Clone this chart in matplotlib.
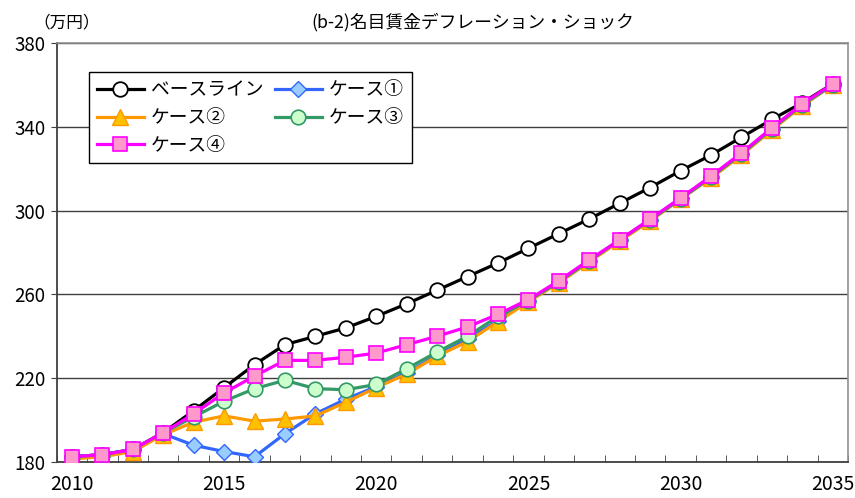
import matplotlib
matplotlib.use("Agg")
import matplotlib.pyplot as plt
import numpy as np

plt.rcParams['font.family'] = ['Noto Sans CJK JP', 'DejaVu Sans']

years = list(range(2010, 2036))
baseline = [182.5, 183.5, 186, 194, 204.5, 215.5, 226.5, 236, 240, 244, 249.5, 255.5, 262,
            268.5, 275, 282, 289, 296, 303.5, 311, 319, 326.5, 335, 343.5, 351.5, 360.5]
case1 = [182.5, 183.5, 186, 193.5, 188, 185, 182.5, 193.5, 203, 210, 216, 222.5, 231,
         238.5, 247.5, 257, 266, 276, 286, 295.5, 306, 316, 327, 339, 350.5, 360]
case2 = [181.5, 182.5, 185, 193, 199, 202, 199.5, 200.5, 202, 208.5, 215.5, 222, 230.5,
         237.5, 247, 256.5, 265.5, 275.5, 285.5, 295, 305.5, 315.5, 326.5, 338.5, 350, 360]
case3 = [182.5, 183.5, 186, 194, 201.5, 209, 215, 219, 215, 214.5, 217, 224.5, 232.5,
         240, 249.5, 257, 266, 276, 286, 295.5, 305.5, 316, 327, 339, 350.5, 360]
case4 = [182.5, 183.5, 186, 194, 203, 213, 221, 228.5, 228.5, 230, 232, 236, 240,
         244.5, 250.5, 257.5, 266.5, 276.5, 286, 296, 306, 316.5, 327.5, 339.5, 351, 360.5]

labels = ['ベースライン', 'ケース①', 'ケース②', 'ケース③', 'ケース④']
yticks = [180, 220, 260, 300, 340, 380]
xtick_years = [2010, 2015, 2020, 2025, 2030, 2035]

fig = plt.figure(figsize=(8.55, 4.98), dpi=100)
ax = fig.add_axes([0.0663, 0.0723, 0.9255, 0.8414])

x = np.arange(len(years))
lw = 2.3
h0, = ax.plot(x, baseline, color='black', lw=lw, marker='o', ms=10.5,
              mfc='white', mec='black', mew=1.3, zorder=3, label=labels[0])
h1, = ax.plot(x, case1, color='#3366FF', lw=lw, marker='D', ms=8.5,
              mfc='#99CCFF', mec='#3366FF', mew=1.0, zorder=4, label=labels[1])
h2, = ax.plot(x, case2, color='#FF9900', lw=lw, marker='^', ms=11,
              mfc='#FFC000', mec='#FF9900', mew=1.0, zorder=5, label=labels[2])
h3, = ax.plot(x, case3, color='#339966', lw=lw, marker='o', ms=10.5,
              mfc='#CCFFCC', mec='#339966', mew=1.2, zorder=6, label=labels[3])
h4, = ax.plot(x, case4, color='#FF00FF', lw=lw, marker='s', ms=9.5,
              mfc='#FF99CC', mec='#FF00FF', mew=1.2, zorder=7, label=labels[4])

ax.set_xlim(-0.5, len(years) - 0.5)
ax.set_ylim(180, 380)
ax.set_yticks(yticks)
ax.set_yticklabels([str(v) for v in yticks], fontsize=13.5)
ax.grid(axis='y', color='#404040', lw=1.0, zorder=0)
ax.set_axisbelow(True)

ax.set_xticks([years.index(y) for y in xtick_years])
ax.set_xticklabels([str(y) for y in xtick_years], fontsize=14)
ax.set_xticks(np.arange(len(years) + 1) - 0.5, minor=True)
ax.tick_params(axis='x', which='major', length=0, pad=9)
ax.tick_params(axis='x', which='minor', direction='in', length=5, color='#404040')
ax.tick_params(axis='y', direction='out', length=4, color='#404040', pad=4)

for s in ['left', 'bottom']:
    ax.spines[s].set_color('#404040')
    ax.spines[s].set_linewidth(1.3)
for s in ['top', 'right']:
    ax.spines[s].set_color('#909090')
    ax.spines[s].set_linewidth(1.2)

leg = ax.legend(handles=[h0, h2, h4, h1, h3], ncol=2, loc='upper left',
                bbox_to_anchor=(0.041, 0.931), borderaxespad=0, fontsize=13.5,
                frameon=True, fancybox=False, edgecolor='black', framealpha=1,
                handlelength=2.5, handletextpad=0.4, columnspacing=0.6,
                labelspacing=0.36, borderpad=0.4)
leg.get_frame().set_linewidth(1.0)
leg.set_zorder(10)

fig.text(0.553, 0.955, '(b-2)名目賃金デフレーション・ショック', ha='center', va='center',
         fontsize=12.8)
fig.text(0.078, 0.955, '（万円）', ha='center', va='center', fontsize=12)

fig.savefig('out.png', dpi=100)
